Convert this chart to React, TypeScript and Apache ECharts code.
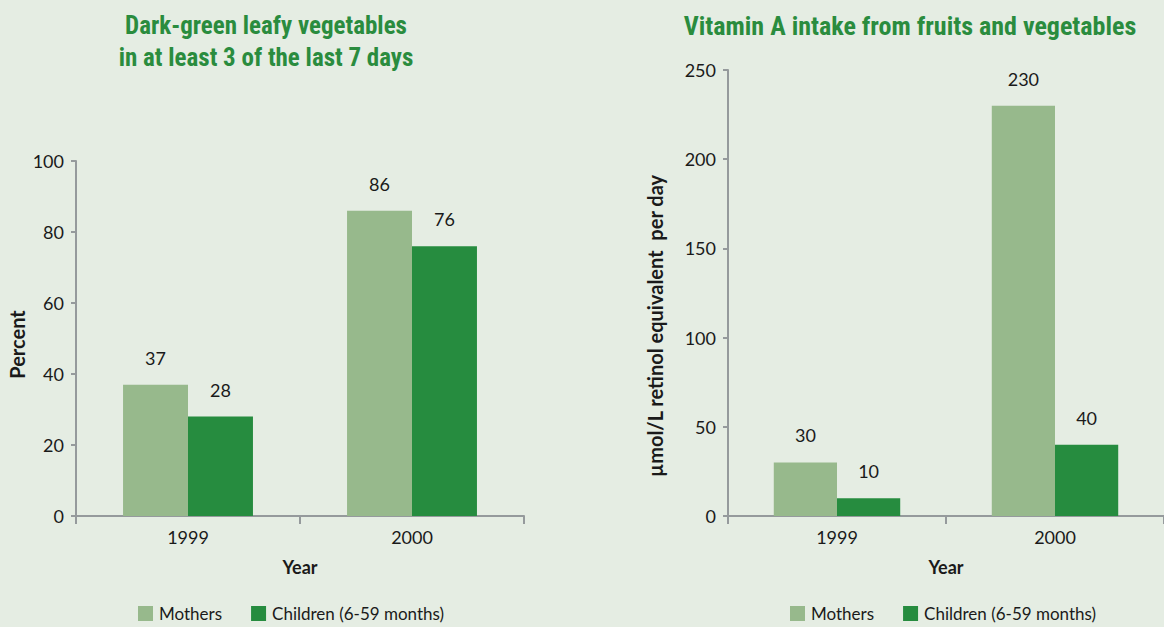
import React, { useEffect, useRef } from "react";
import * as echarts from "echarts";

const years = ["1999", "2000"];
const leafyMothers = [37, 86];
const leafyChildren = [28, 76];
const vitAMothers = [30, 230];
const vitAChildren = [10, 40];
const seriesNames = ["Mothers", "Children (6-59 months)"];

const LIGHT = "#97B98C";
const DARK = "#268C3F";
const AXIS = "#959A9C";
const TEXT = "#1a1a1a";
const TITLE = "#2A8C3E";
const FONT = "Lato, 'Open Sans', sans-serif";
const TFONT = "'Liberation Sans Narrow', 'Roboto Condensed', sans-serif";

export default function App() {
  const ref = useRef<HTMLDivElement>(null);
  useEffect(() => {
    document.body.style.margin = "0";
    const chart = echarts.init(ref.current!, null, { renderer: "svg" });
    const axisLine = { show: true, lineStyle: { color: AXIS, width: 2 } };
    const xAxisCommon = (gridIndex: number) => ({
      type: "category",
      gridIndex,
      data: years,
      axisLine,
      axisTick: { show: true, length: 8, lineStyle: { color: AXIS, width: 2 } },
      axisLabel: { color: TEXT, fontSize: 18, fontFamily: FONT, margin: 12 },
      name: "Year",
      nameLocation: "middle",
      nameGap: 42,
      nameTextStyle: { color: TEXT, fontSize: 18, fontWeight: "bold", fontFamily: FONT },
    });
    const yAxisCommon = (
      gridIndex: number,
      max: number,
      interval: number,
      name: string,
      nameGap: number,
      shift: number
    ) => ({
      type: "value",
      gridIndex,
      min: 0,
      max,
      interval,
      axisLine,
      axisTick: { show: true, length: 5, lineStyle: { color: AXIS, width: 2 } },
      splitLine: { show: false },
      axisLabel: { color: TEXT, fontSize: 18, fontFamily: FONT, margin: 12 },
      name,
      nameLocation: "middle",
      nameGap,
      nameRotate: 90,
      nameTextStyle: {
        color: TEXT,
        fontSize: 20,
        fontWeight: "bold",
        fontFamily: FONT,
        padding: [0, shift * 2, 0, 0],
      },
    });
    const label = {
      show: true,
      position: "top",
      distance: 18,
      color: TEXT,
      fontSize: 18,
      fontFamily: FONT,
    };
    const bar = (name: string, data: number[], idx: number, color: string) => ({
      type: "bar",
      name,
      data,
      xAxisIndex: idx,
      yAxisIndex: idx,
      itemStyle: { color },
      barGap: "0%",
      barCategoryGap: "42%",
      label,
    });
    const legend = (left: number) => ({
      data: seriesNames,
      left,
      top: 600,
      itemWidth: 15,
      itemHeight: 15,
      itemGap: 29,
      icon: "rect",
      textStyle: { color: TEXT, fontSize: 17, fontFamily: FONT, padding: [0, 0, 0, 1] },
    });
    chart.setOption({
      animation: false,
      backgroundColor: "#E5EDE3",
      title: [
        {
          text: "Dark-green leafy vegetables\nin at least 3 of the last 7 days",
          left: 261,
          top: 4,
          textAlign: "center",
          textStyle: {
            color: TITLE,
            fontSize: 25,
            fontWeight: "bold",
            fontFamily: TFONT,
            lineHeight: 32,
          },
        },
        {
          text: "Vitamin A intake from fruits and vegetables",
          left: 905,
          top: 8,
          textAlign: "center",
          textStyle: {
            color: TITLE,
            fontSize: 26,
            fontWeight: "bold",
            fontFamily: TFONT,
          },
        },
      ],
      legend: [legend(133), legend(785)],
      grid: [
        { left: 76, top: 161, width: 448, height: 355 },
        { left: 728, top: 70, width: 438, height: 446 },
      ],
      xAxis: [xAxisCommon(0), xAxisCommon(1)],
      yAxis: [
        yAxisCommon(0, 100, 20, "Percent", 49, 6),
        yAxisCommon(1, 250, 50, "µmol/L retinol equivalent  per day", 63, 33),
      ],
      series: [
        bar(seriesNames[0], leafyMothers, 0, LIGHT),
        bar(seriesNames[1], leafyChildren, 0, DARK),
        bar(seriesNames[0], vitAMothers, 1, LIGHT),
        bar(seriesNames[1], vitAChildren, 1, DARK),
      ],
    });
    return () => chart.dispose();
  }, []);
  return <div ref={ref} style={{ width: 1164, height: 627 }} />;
}
